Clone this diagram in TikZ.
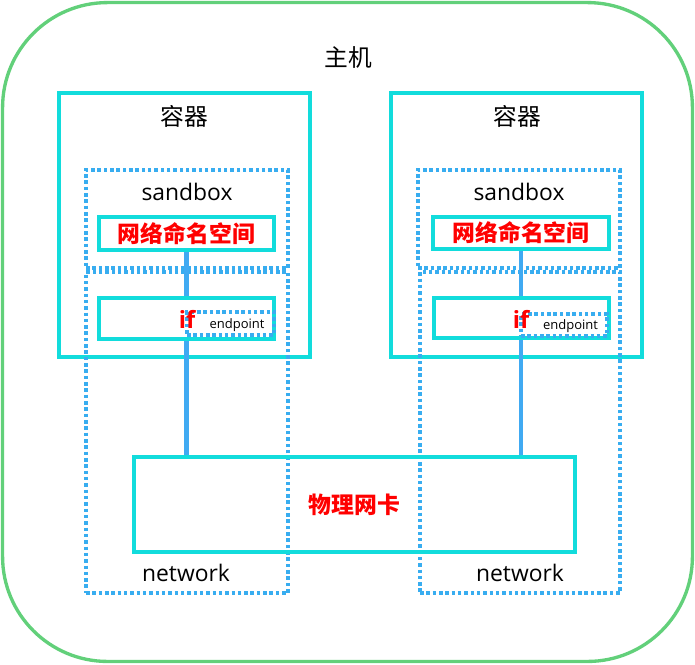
\documentclass[tikz,border=0pt]{standalone}
\usepackage{fontspec}
\setmainfont{Open Sans}
\newfontfamily\cjk{Noto Sans CJK SC}
\usetikzlibrary{positioning}
\definecolor{hostgreen}{HTML}{62D07A}
\definecolor{boxcyan}{HTML}{12DCDC}
\definecolor{dotblue}{HTML}{38ADF0}
\definecolor{linkblue}{HTML}{40AAF2}
\definecolor{hotred}{HTML}{FF0000}

\tikzset{
  solidbox/.style={draw=boxcyan, line width=2pt, minimum width=#1, inner sep=0pt},
  dotbox/.style={draw=dotblue, line width=2pt, dash pattern=on 2pt off 1.6pt, inner sep=0pt},
  redlabel/.style={text=hotred, font={\cjk\bfseries\fontsize{13}{15}\selectfont}},
  plainlabel/.style={font={\fontsize{13}{15}\selectfont}},
  link/.style={draw=linkblue, line width=2.4pt}
}

\begin{document}
\begin{tikzpicture}[x=0.02cm, y=-0.02cm]
  \useasboundingbox (0,0) rectangle (695,664);
  % host
  \node[draw=hostgreen, line width=1.9pt, rounded corners=2.1cm, minimum width=13.8cm, minimum height=13.18cm] (host) at (347.5,332) {};
  \node[font={\cjk\fontsize{13.5}{15}\selectfont}] (hostlabel) at (348,57) {主机};
  % containers
  \node[solidbox=5.02cm, minimum height=5.28cm] (cont1) at (184.5,225) {};
  \node[solidbox=5.02cm, minimum height=5.28cm] (cont2) at (516.5,225) {};
  \node[font={\cjk\fontsize{13.5}{15}\selectfont}] (contlabel1) at (184,116) {容器};
  \node[font={\cjk\fontsize{13.5}{15}\selectfont}] (contlabel2) at (517,116) {容器};
  % sandboxes
  \node[dotbox, minimum width=4.04cm, minimum height=1.96cm] (sand1) at (187,219) {};
  \node[dotbox, minimum width=4.04cm, minimum height=1.96cm] (sand2) at (519,219) {};
  \node[plainlabel] (sandlabel1) at (187,192) {sandbox};
  \node[plainlabel] (sandlabel2) at (519,192) {sandbox};
  % networks
  \node[dotbox, minimum width=4.04cm, minimum height=6.42cm] (net1) at (187,432.5) {};
  \node[dotbox, minimum width=4.0cm, minimum height=6.42cm] (net2) at (520,432.5) {};
  \node[plainlabel] (netlabel1) at (186,573) {network};
  \node[plainlabel] (netlabel2) at (520,573) {network};
  % physical nic
  \node[solidbox=8.82cm, minimum height=1.9cm, redlabel] (nic) at (354.5,504.5) {物理网卡};
  % namespaces
  \node[solidbox=3.5cm, minimum height=0.66cm, fill=white, redlabel] (ns1) at (186.5,233.5) {网络命名空间};
  \node[solidbox=3.52cm, minimum height=0.64cm, fill=white, redlabel] (ns2) at (521,233) {网络命名空间};
  % links
  \draw[link] (ns1.south) -- (ns1.south |- nic.north);
  \draw[link] (ns2.south) -- (ns2.south |- nic.north);
  % interfaces
  \node[solidbox=3.5cm, minimum height=0.82cm, fill=white] (if1) at (186.5,318.5) {};
  \node[solidbox=3.5cm, minimum height=0.8cm, fill=white] (if2) at (521.5,318) {};
  \node[dotbox, minimum width=1.74cm, minimum height=0.46cm, font={\fontsize{7.4}{9}\selectfont}, text depth=0pt] (ep1) at (230.5,323.5) {\quad endpoint};
  \node[dotbox, minimum width=1.72cm, minimum height=0.44cm, font={\fontsize{7.4}{9}\selectfont}, text depth=0pt] (ep2) at (564,325) {\quad endpoint};
  \node[redlabel, font={\bfseries\fontsize{13.5}{15}\selectfont}] (iflabel1) at (187,319) {if};
  \node[redlabel, font={\bfseries\fontsize{13.5}{15}\selectfont}] (iflabel2) at (521,319) {if};
\end{tikzpicture}
\end{document}
